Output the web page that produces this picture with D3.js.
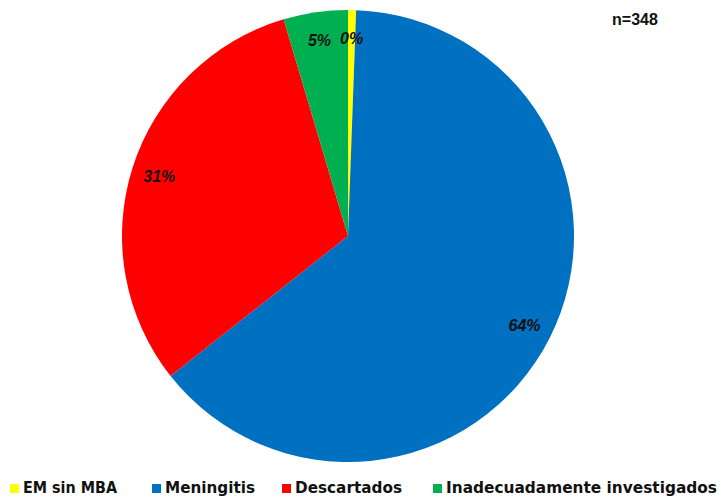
<!DOCTYPE html>
<html>
<head>
<meta charset="utf-8">
<script src="https://cdn.jsdelivr.net/npm/d3@7"></script>
<style>
  html, body { margin: 0; padding: 0; background: #fff; }
  svg { display: block; }
</style>
</head>
<body>
<svg id="chart" width="721" height="497"></svg>
<script>
// ---- data ----
const categories = ["EM sin MBA", "Meningitis", "Descartados", "Inadecuadamente investigados"];
const counts = [2, 222, 108, 16];
const percentLabels = ["0%", "64%", "31%", "5%"];
const colors = ["#FFFF00", "#0070C0", "#FF0000", "#00B050"];
const totalLabel = "n=348";

// ---- layout ----
const W = 721, H = 497;
const cx = 348, cy = 236, R = 226, labelR = 198;
const legendX = [10, 152, 282, 433];      // square left edges
const legendTextW = [94, 90, 107, 271];    // rendered text widths
const legendY = 484, sq = 9;

const svg = d3.select("#chart");

const pie = d3.pie().sort(null).value(d => d)(counts);
const arc = d3.arc().innerRadius(0).outerRadius(R);
const labelArc = d3.arc().innerRadius(labelR).outerRadius(labelR);

const g = svg.append("g").attr("transform", `translate(${cx},${cy})`);

g.selectAll("path.slice")
  .data(pie)
  .join("path")
  .attr("class", "slice")
  .attr("d", arc)
  .attr("fill", (d, i) => colors[i]);

g.selectAll("text.plabel")
  .data(pie)
  .join("text")
  .attr("class", "plabel")
  .attr("transform", d => `translate(${labelArc.centroid(d)})`)
  .attr("text-anchor", "middle")
  .attr("dominant-baseline", "central")
  .attr("font-family", "'Liberation Sans', Arial, sans-serif")
  .attr("font-weight", "bold")
  .attr("font-style", "italic")
  .attr("font-size", 16)
  .attr("fill", "#111")
  .text((d, i) => percentLabels[i]);

svg.append("text")
  .attr("x", 635)
  .attr("y", 25)
  .attr("text-anchor", "middle")
  .attr("font-family", "'Liberation Sans', Arial, sans-serif")
  .attr("font-weight", "bold")
  .attr("font-size", 16)
  .attr("fill", "#111")
  .text(totalLabel);

const leg = svg.append("g");
categories.forEach((c, i) => {
  leg.append("rect")
    .attr("x", legendX[i])
    .attr("y", legendY)
    .attr("width", sq)
    .attr("height", sq)
    .attr("fill", colors[i]);
  leg.append("text")
    .attr("x", legendX[i] + sq + 4)
    .attr("y", legendY + 9)
    .attr("font-family", "'DejaVu Sans', sans-serif")
    .attr("font-weight", "bold")
    .attr("font-size", 15)
    .attr("textLength", legendTextW[i])
    .attr("lengthAdjust", "spacingAndGlyphs")
    .attr("fill", "#111")
    .text(c);
});
</script>
</body>
</html>
